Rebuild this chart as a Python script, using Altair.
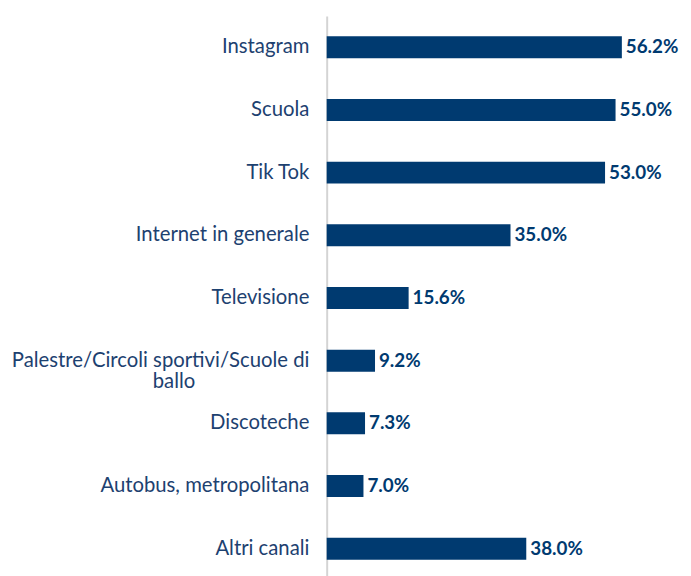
import altair as alt
import pandas as pd

NBSP = "\u00a0"
categories = ["Instagram", "Scuola", "Tik Tok", "Internet in generale", "Televisione",
              "Palestre/Circoli sportivi/Scuole di|ballo" + NBSP * 22 + "\u200b", "Discoteche",
              "Autobus, metropolitana", "Altri canali"]
values = [56.2, 55.0, 53.0, 35.0, 15.6, 9.2, 7.3, 7.0, 38.0]
labels = ["56.2%", "55.0%", "53.0%", "35.0%", "15.6%", "9.2%", "7.3%", "7.0%", "38.0%"]

df = pd.DataFrame({"cat": categories, "val": values, "lab": labels})

FONT = "Lato"
NAVY = "#003a70"
TEXT = "#1d4170"

y = alt.Y("cat:N", sort=None, title=None,
          scale=alt.Scale(paddingInner=0.65, paddingOuter=0.325),
          axis=alt.Axis(ticks=False, labelPadding=18, labelFontSize=20.5, labelFont=FONT,
                        labelColor=TEXT, labelLimit=400, domainColor="#d4d4d4",
                        domainWidth=2, labelLineHeight=22,
                        labelExpr="split(datum.label, '|')"))
x = alt.X("val:Q", scale=alt.Scale(domain=[0, 66.9], nice=False), axis=None)

bars = alt.Chart(df).mark_bar(color=NAVY).encode(x=x, y=y)
text = alt.Chart(df).mark_text(align="left", baseline="middle", dx=4, font=FONT,
                               fontSize=19, fontWeight="bold", color=NAVY).encode(
    x=x, y=y, text="lab:N")

chart = (bars + text).properties(
    width=355, height=570,
    autosize=alt.AutoSizeParams(type="none"),
    padding={"left": 322, "top": 5, "right": 5, "bottom": 0},
).configure_view(stroke=None).configure_axis(grid=False)

chart.save("out.html", embed_options={"renderer": "svg", "actions": False})
